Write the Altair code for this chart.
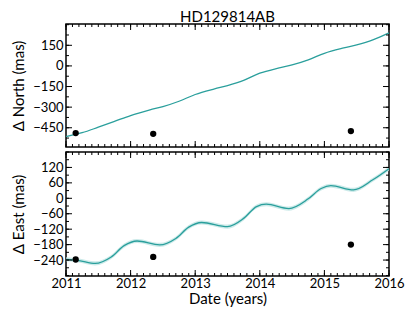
import altair as alt
import pandas as pd

# ---- data ----
north_year = [2011.0, 2011.25, 2011.5, 2011.75, 2012.0, 2012.3, 2012.5, 2012.75, 2013.0, 2013.3,
              2013.5, 2013.75, 2014.0, 2014.3, 2014.5, 2014.75, 2015.0, 2015.3, 2015.5, 2015.75, 2016.0]
north_val = [-514, -486, -446, -404, -361, -320, -296, -257, -208, -167,
             -143, -105, -53, -15, 7, 44, 92, 131, 153, 189, 240]

east_year = [2011.0, 2011.2, 2011.45, 2011.7, 2011.9, 2012.1, 2012.45, 2012.7, 2012.9, 2013.1,
             2013.5, 2013.75, 2013.95, 2014.1, 2014.45, 2014.75, 2014.95, 2015.1, 2015.45, 2015.75, 2016.0]
east_val = [-237, -242, -253, -228, -184, -166, -181, -156, -112, -94,
            -110, -78, -32, -23, -40, -2, 38, 49, 33, 72, 115]
east_err = [8] * len(east_year)

obs_year = [2011.15, 2012.35, 2015.41]
obs_north = [-489, -494, -474]
obs_east = [-238, -228, -180]

x_major = [2011, 2012, 2013, 2014, 2015, 2016]
north_ticks = [-450, -300, -150, 0, 150]
east_ticks = [-240, -180, -120, -60, 0, 60, 120]

W, H1, H2 = 323, 123, 124
LINE = "#2a9f9c"
FONT = "Lato"

x_minor = [round(2011 + i * 0.1, 1) for i in range(51)]
north_minor = list(range(-525, 301, 75))
east_minor = list(range(-300, 181, 30))

xscale = alt.Scale(domain=[2011, 2016], nice=False, zero=False)
nscale = alt.Scale(domain=[-590, 305], nice=False, zero=False)
escale = alt.Scale(domain=[-302, 180], nice=False, zero=False)

north_df = pd.DataFrame({"year": north_year, "v": north_val})
east_df = pd.DataFrame({"year": east_year, "v": east_val, "err": east_err})
east_df["lo"] = east_df["v"] - east_df["err"]
east_df["hi"] = east_df["v"] + east_df["err"]
obs_df = pd.DataFrame({"year": obs_year, "n": obs_north, "e": obs_east})

COMMON = dict(ticks=False, domain=False, grid=False, labelFontSize=13, titleFontSize=15,
              labelFont=FONT, titleFont=FONT, titleFontWeight="normal",
              labelColor="black", titleColor="black", labelOverlap=False)

x_top_axis = alt.Axis(title=None, labels=False, values=x_major, **COMMON)
x_bot_axis = alt.Axis(title="Date (years)", values=x_major, format="d", labelFlush=False,
                      labelPadding=1, titlePadding=1, **COMMON)
n_axis = alt.Axis(title="Δ North (mas)", values=north_ticks, labelPadding=3, titlePadding=6,
                  labelSeparation=0, **COMMON)
e_axis = alt.Axis(title="Δ East (mas)", values=east_ticks, labelPadding=3, titlePadding=6,
                  labelSeparation=0, **COMMON)


def tick_layers(xaxis, yscale, yaxis, ymaj, ymin, h):
    layers = []
    for vals, L in ((x_major, 6), (x_minor, 3)):
        d = pd.DataFrame({"year": vals})
        for y0, y1 in ((0, L), (h, h - L)):
            layers.append(alt.Chart(d).mark_rule(color="black", strokeWidth=1).encode(
                x=alt.X("year:Q", scale=xscale, axis=xaxis), y=alt.value(y0), y2=alt.value(y1)))
    for vals, L in ((ymaj, 6), (ymin, 3)):
        d = pd.DataFrame({"v": vals})
        d = d[(d["v"] >= yscale.domain[0]) & (d["v"] <= yscale.domain[1])]
        for x0, x1 in ((0, L), (W, W - L)):
            layers.append(alt.Chart(d).mark_rule(color="black", strokeWidth=1).encode(
                y=alt.Y("v:Q", scale=yscale, axis=yaxis), x=alt.value(x0), x2=alt.value(x1)))
    return layers


top_line = alt.Chart(north_df).mark_line(color=LINE, strokeWidth=1.3, interpolate="monotone").encode(
    x=alt.X("year:Q", scale=xscale, axis=x_top_axis),
    y=alt.Y("v:Q", scale=nscale, axis=n_axis),
)
top_pts = alt.Chart(obs_df).mark_circle(color="black", size=40, opacity=1).encode(
    x=alt.X("year:Q", scale=xscale, axis=x_top_axis),
    y=alt.Y("n:Q", scale=nscale, axis=n_axis))

top = alt.layer(top_line, top_pts,
                *tick_layers(x_top_axis, nscale, n_axis, north_ticks, north_minor, H1)).properties(
    width=W, height=H1,
    title=alt.TitleParams("HD129814AB", font=FONT, fontSize=15, fontWeight="normal",
                          anchor="middle", frame="group", color="black", offset=-1))

band = alt.Chart(east_df).mark_area(color="#bfe5e4", opacity=0.8, interpolate="monotone").encode(
    x=alt.X("year:Q", scale=xscale, axis=x_bot_axis),
    y=alt.Y("lo:Q", scale=escale, axis=e_axis), y2="hi:Q")
bot_line = alt.Chart(east_df).mark_line(color=LINE, strokeWidth=1.3, interpolate="monotone").encode(
    x=alt.X("year:Q", scale=xscale, axis=x_bot_axis),
    y=alt.Y("v:Q", scale=escale, axis=e_axis),
)
bot_pts = alt.Chart(obs_df).mark_circle(color="black", size=40, opacity=1).encode(
    x=alt.X("year:Q", scale=xscale, axis=x_bot_axis),
    y=alt.Y("e:Q", scale=escale, axis=e_axis))

bottom = alt.layer(band, bot_line, bot_pts,
                   *tick_layers(x_bot_axis, escale, e_axis, east_ticks, east_minor, H2)).properties(
    width=W, height=H2)

chart = alt.vconcat(top, bottom, spacing=1).properties(
    padding={"left": 3, "top": 0, "right": 0, "bottom": 0}, background="white"
).configure_view(stroke="black", strokeWidth=1.5)

chart.save("out.html", embed_options={"renderer": "svg", "actions": False})
